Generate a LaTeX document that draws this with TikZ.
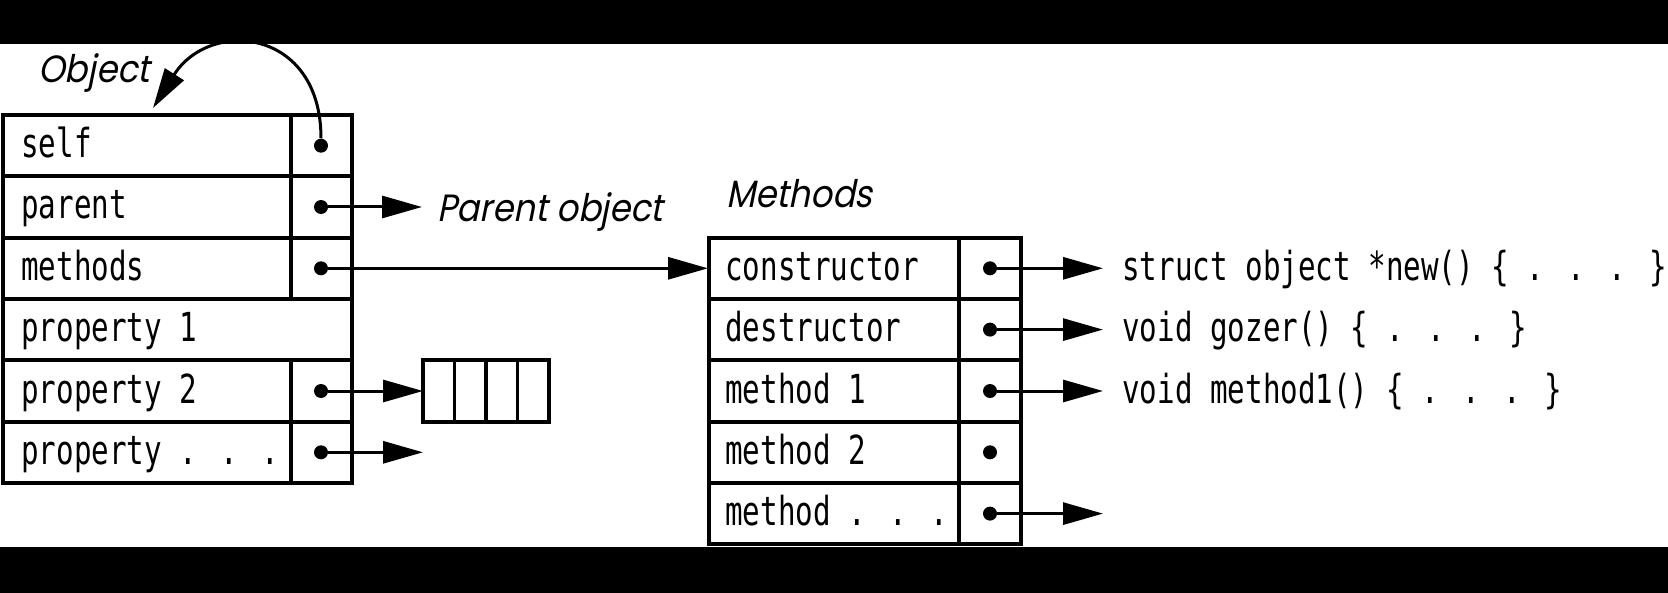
\documentclass[tikz,border=0pt]{standalone}
\usepackage{fontspec}
\usetikzlibrary{arrows.meta}
\newfontfamily\codefont[FakeStretch=0.73]{DejaVu Sans Mono}
\newfontfamily\lblfont[FakeSlant=0.2,FakeStretch=0.89]{Poppins}
\tikzset{
  tbl/.style={line width=1.9pt},
  arr/.style={line width=1.5pt, -{Triangle[length=20pt,width=11pt]}},
  code/.style={anchor=base west, inner sep=0pt, font=\codefont\fontsize{20pt}{20pt}\selectfont},
  lbl/.style={anchor=base west, inner sep=0pt, font=\lblfont\fontsize{19pt}{19pt}\selectfont},
  dot/.style={circle, fill=black, inner sep=0pt, minimum size=7pt}
}
\begin{document}
\begin{tikzpicture}[x=0.5pt, y=-0.5pt]
\useasboundingbox (0,0) rectangle (1668,593);
% ---------- left table (Object) ----------
\def\p{61.33}
\draw[tbl] (3,115) rectangle (352,483);
\foreach \k in {1,...,5} \draw[tbl] (3,115+\k*\p) -- (352,115+\k*\p);
\draw[tbl] (291,115) -- (291,115+3*\p);
\draw[tbl] (291,115+4*\p) -- (291,483);
\node[code] (tself)  at (21,145.7+12) {self};
\node[code] (tpar)   at (21,207+12)   {parent};
\node[code] (tmeth)  at (21,268.3+12) {methods};
\node[code] (tp1)    at (21,329.7+12) {property 1};
\node[code] (tp2)    at (21,391+12)   {property 2};
\node[code] (tpd)    at (21,452.3+12) {property . . .};
\node[dot] (dself) at (321,145.7) {};
\node[dot] (dpar)  at (321,207) {};
\node[dot] (dmeth) at (321,268.3) {};
\node[dot] (dp2)   at (321,391) {};
\node[dot] (dpd)   at (321,452.3) {};
\node[lbl] (objlbl) at (38,83) {Object};
\coordinate (objtip) at (153,108);
\draw[arr] (dself) .. controls (321,28) and (210,18) .. (objtip);
% parent
\coordinate (partip) at (422,207);
\node[lbl] (parlbl) at (437,221) {Parent object};
\draw[arr] (dpar) -- (partip);
% array
\draw[tbl] (423,360.3) rectangle (549,421.7);
\foreach \xx in {454.5,486,517.5} \draw[tbl] (\xx,360.3) -- (\xx,421.7);
\coordinate (arrtip) at (423,391);
\draw[arr] (dp2) -- (arrtip);
\coordinate (pdtip) at (423,452.3);
\draw[arr] (dpd) -- (pdtip);
% ---------- Methods table ----------
\draw[tbl] (709,237.67) rectangle (1021,544.3);
\foreach \k in {1,...,4} \draw[tbl] (709,237.67+\k*\p) -- (1021,237.67+\k*\p);
\draw[tbl] (959,237.67) -- (959,544.3);
\node[lbl] (methlbl) at (726,207) {Methods};
\node[code] (mcons) at (725,268.3+12) {constructor};
\node[code] (mdest) at (725,329.6+12) {destructor};
\node[code] (mm1)   at (725,391+12)   {method 1};
\node[code] (mm2)   at (725,452.3+12) {method 2};
\node[code] (mmd)   at (725,513.6+12) {method . . .};
\node[dot] (dcons) at (990,268.3) {};
\node[dot] (ddest) at (990,329.6) {};
\node[dot] (dm1)   at (990,391) {};
\node[dot] (dm2)   at (990,452.3) {};
\node[dot] (dmd)   at (990,513.6) {};
\coordinate (mtop) at (708,268.3);
\draw[arr] (dmeth) -- (mtop);
% right texts
\node[code] (fcons) at (1122,268.3+12) {struct object *new() \{ . . . \}};
\node[code] (fdest) at (1122,329.6+12) {void gozer() \{ . . . \}};
\node[code] (fm1)   at (1122,391+12)   {void method1() \{ . . . \}};
\coordinate (tcons) at (1103,268.3);
\coordinate (tdest) at (1103,329.6);
\coordinate (tm1)   at (1103,391);
\coordinate (tmd)   at (1103,513.6);
\draw[arr] (dcons) -- (tcons);
\draw[arr] (ddest) -- (tdest);
\draw[arr] (dm1) -- (tm1);
\draw[arr] (dmd) -- (tmd);
% black bars
\fill[black] (0,0) rectangle (1668,44.5);
\fill[black] (0,547) rectangle (1668,593);
\end{tikzpicture}
\end{document}
